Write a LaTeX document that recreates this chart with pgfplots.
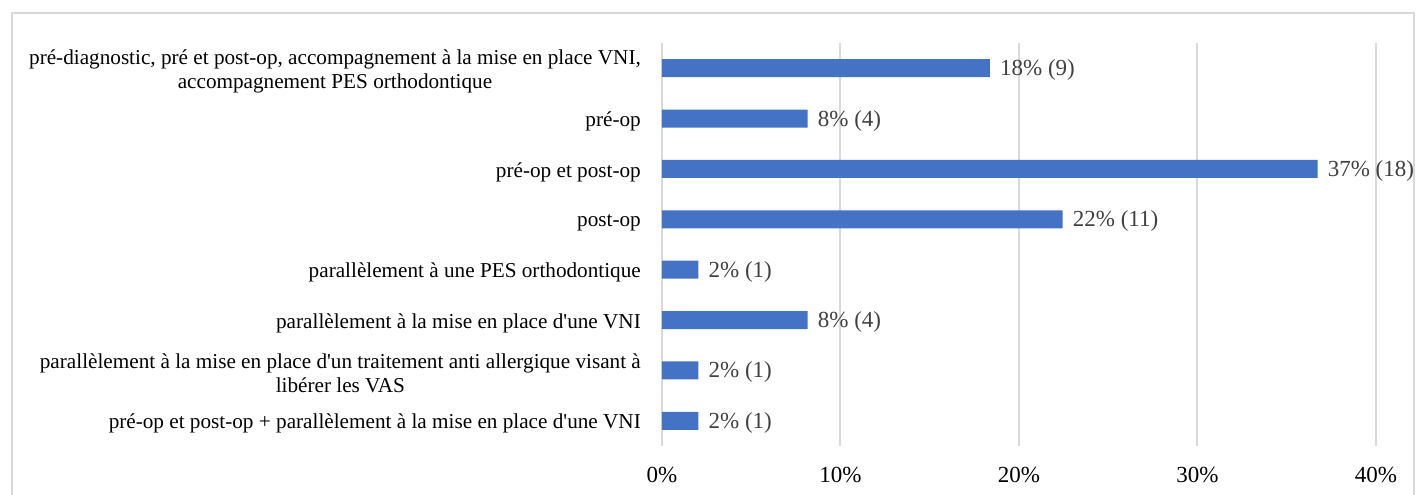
\documentclass[border=0pt]{standalone}
\usepackage{fontspec}
\setmainfont{Liberation Serif}
\usepackage{pgfplots}
\pgfplotsset{compat=1.18}
\definecolor{barblue}{HTML}{4472C4}
\definecolor{gridgray}{HTML}{D9D9D9}
\definecolor{lblgray}{HTML}{404040}
\begin{document}
\begin{tikzpicture}
\begin{axis}[name=ax,
  scale only axis, width=714bp, height=403bp,
  xmin=0, xmax=40, ymin=-0.5, ymax=7.5,
  xtick={0,10,20,30,40},
  xticklabels={0\%,10\%,20\%,30\%,40\%},
  ytick={0,1,2,3,4,5,6,7},
  yticklabels={{pré-op et post-op + parallèlement à la mise en place d\textquotesingle une VNI},
    {parallèlement à la mise en place d\textquotesingle un traitement anti allergique visant à\\libérer les VAS},
    {parallèlement à la mise en place d\textquotesingle une VNI},
    {parallèlement à une PES orthodontique},
    {post-op},
    {pré-op et post-op},
    {pré-op},
    {pré-diagnostic, pré et post-op, accompagnement à la mise en place VNI,\\accompagnement PES orthodontique}},
  axis line style={draw=none},
  major tick length=0pt,
  xmajorgrids, grid style={gridgray, line width=2bp},
  xticklabel style={anchor=center, yshift=-29bp, inner sep=0pt, font=\fontsize{23bp}{26bp}\selectfont},
  yticklabel style={anchor=east, align=center, inner sep=0pt, xshift=-21bp, yshift=-3bp, font=\fontsize{21.2bp}{24bp}\selectfont},
  clip=false,
]
\addplot[xbar, fill=barblue, draw=none, bar width=18bp,
  nodes near coords, point meta=explicit symbolic,
  every node near coord/.append style={anchor=west, inner sep=0pt, xshift=10bp, yshift=-2bp, text=lblgray, font=\fontsize{23bp}{26bp}\selectfont}]
  coordinates {
  (2.04,0) [2\% (1)]
  (2.04,1) [2\% (1)]
  (8.16,2) [8\% (4)]
  (2.04,3) [2\% (1)]
  (22.45,4) [22\% (11)]
  (36.73,5) [37\% (18)]
  (8.16,6) [8\% (4)]
  (18.37,7) [18\% (9)]
  };
\end{axis}
\draw[gridgray, line width=1.5bp] ([xshift=-650bp,yshift=-60bp]ax.south west) rectangle ([xshift=38bp,yshift=30bp]ax.north east);
\pgfresetboundingbox
\path[use as bounding box] ([xshift=-662bp,yshift=-49bp]ax.south west) rectangle ([xshift=40bp,yshift=43bp]ax.north east);
\end{tikzpicture}
\end{document}
